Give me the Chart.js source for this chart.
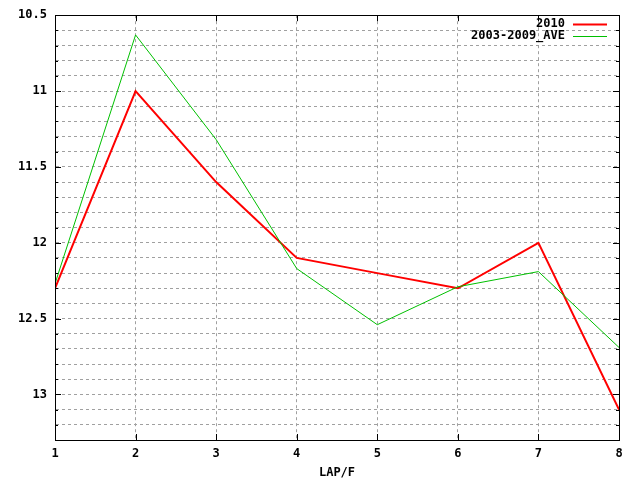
<!DOCTYPE html>
<html>
<head>
<meta charset="utf-8">
<script src="https://cdn.jsdelivr.net/npm/chart.js@4"></script>
<style>
html,body{margin:0;padding:0;background:#fff;}
#wrap{width:640px;height:480px;}
</style>
</head>
<body>
<div id="wrap"><canvas id="c" width="640" height="480"></canvas></div>
<script>
const laps = [1, 2, 3, 4, 5, 6, 7, 8];
const series2010 = [12.3, 11.0, 11.6, 12.1, 12.2, 12.3, 12.0, 13.1];
const seriesAve = [12.27, 10.63, 11.32, 12.17, 12.54, 12.29, 12.19, 12.69];
const seriesNames = ['2010', '2003-2009_AVE'];
const xTitle = 'LAP/F';
const yMin = 10.5, yMax = 13.3, yStep = 0.1, yLabelStep = 0.5;

const FONT = {family: "'DejaVu Sans Mono', monospace", size: 12, weight: 'bold'};
const isMajor = v => Math.abs(v / yLabelStep - Math.round(v / yLabelStep)) < 1e-6;

const framePlugin = {
  id: 'frame',
  afterDraw(chart) {
    const ctx = chart.ctx, a = chart.chartArea;
    const xs = chart.scales.x, ys = chart.scales.y;
    ctx.save();
    ctx.strokeStyle = '#000';
    ctx.lineWidth = 1;
    ctx.setLineDash([]);
    ctx.beginPath();
    ys.ticks.forEach(t => {
      const y = Math.round(ys.getPixelForValue(t.value)) + 0.5;
      const len = isMajor(t.value) ? 6 : 3;
      ctx.moveTo(a.left, y); ctx.lineTo(a.left + len, y);
      ctx.moveTo(a.right, y); ctx.lineTo(a.right - len, y);
    });
    xs.ticks.forEach(t => {
      const x = Math.round(xs.getPixelForValue(t.value)) + 0.5;
      ctx.moveTo(x, a.bottom); ctx.lineTo(x, a.bottom - 6);
      ctx.moveTo(x, a.top); ctx.lineTo(x, a.top + 6);
    });
    ctx.stroke();
    ctx.strokeRect(Math.round(a.left) + 0.5, Math.round(a.top) + 0.5,
                   Math.round(a.right - a.left), Math.round(a.bottom - a.top));
    ctx.font = `${FONT.weight} ${FONT.size}px ${FONT.family}`;
    ctx.textAlign = 'right';
    ctx.textBaseline = 'middle';
    chart.data.datasets.forEach((ds, i) => {
      const y = 24 + i * 12;
      ctx.fillStyle = '#000';
      ctx.fillText(ds.label, 565, y);
      ctx.strokeStyle = ds.borderColor;
      ctx.lineWidth = ds.borderWidth;
      ctx.beginPath();
      ctx.moveTo(573, y + 0.5); ctx.lineTo(607, y + 0.5);
      ctx.stroke();
    });
    ctx.restore();
  }
};

new Chart(document.getElementById('c'), {
  type: 'line',
  data: {
    datasets: [
      {label: seriesNames[0], data: laps.map((x, i) => ({x, y: series2010[i]})),
       borderColor: '#ff0000', borderWidth: 2, pointRadius: 0, tension: 0, order: 1},
      {label: seriesNames[1], data: laps.map((x, i) => ({x, y: seriesAve[i]})),
       borderColor: '#00c000', borderWidth: 1, pointRadius: 0, tension: 0, order: 0}
    ]
  },
  options: {
    responsive: false,
    animation: false,
    layout: {padding: {top: 13, right: 21, left: 0, bottom: 0}},
    plugins: {legend: {display: false}, tooltip: {enabled: false}},
    scales: {
      x: {
        type: 'linear', min: 1, max: 8,
        ticks: {stepSize: 1, color: '#000', font: FONT, padding: 7, autoSkip: false},
        grid: {color: '#a0a0a0', drawTicks: false, tickLength: 0},
        border: {display: true, color: '#000', dash: [3, 3]},
        title: {display: true, text: xTitle, color: '#000', font: FONT, padding: {top: 4, bottom: 0}},
        afterFit(s) { s.height = 40; }
      },
      y: {
        type: 'linear', reverse: true, min: yMin, max: yMax,
        ticks: {stepSize: yStep, color: '#000', font: FONT, padding: 8, autoSkip: false,
                callback: v => isMajor(v) ? String(Number(v.toFixed(1))) : ''},
        grid: {color: '#a0a0a0', drawTicks: false, tickLength: 0},
        border: {display: true, color: '#000', dash: [3, 3]},
        afterFit(s) { s.width = 55; }
      }
    }
  },
  plugins: [framePlugin]
});
</script>
</body>
</html>
